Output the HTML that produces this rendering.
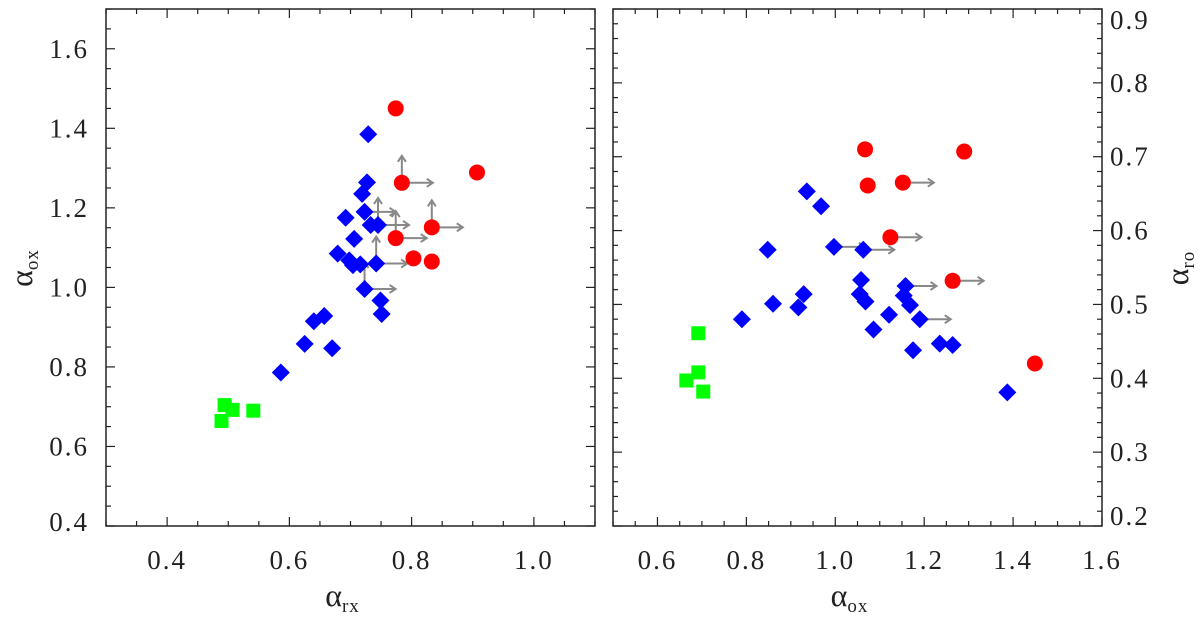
<!DOCTYPE html>
<html><head><meta charset="utf-8"><style>
body{margin:0;background:#fff;}
svg text{font-family:"Liberation Serif","DejaVu Serif",serif;fill:#222;}
</style></head><body>
<svg id="chart" width="1200" height="617" viewBox="0 0 1200 617" xmlns="http://www.w3.org/2000/svg"></svg>
<script>
// ---- Left panel data (alpha_rx vs alpha_ox) ----
const leftRedX=[0.774,0.907,0.784,0.774,0.833,0.803,0.833];
const leftRedY=[1.450,1.289,1.263,1.124,1.151,1.073,1.065];
const leftRedUp=[0,0,1,1,1,0,0];
const leftRedRight=[0,0,1,1,1,0,0];
const leftBlueX=[0.729,0.727,0.719,0.692,0.723,0.733,0.745,0.706,0.679,0.698,0.704,0.716,0.742,0.723,0.749,0.751,0.640,0.657,0.625,0.670,0.586];
const leftBlueY=[1.385,1.264,1.235,1.175,1.190,1.157,1.157,1.122,1.085,1.068,1.056,1.058,1.060,0.996,0.967,0.933,0.915,0.928,0.858,0.847,0.786];
const leftBlueUp=[0,0,0,0,0,0,1,0,0,0,0,0,1,1,0,0,0,0,0,0,0];
const leftBlueRight=[0,0,0,0,1,0,1,0,0,0,0,0,1,1,0,0,0,0,0,0,0];
const leftGreenX=[0.494,0.507,0.541,0.489];
const leftGreenY=[0.704,0.692,0.690,0.664];
const leftXTicks=["0.4","0.6","0.8","1.0"];
const leftYTicks=["0.4","0.6","0.8","1.0","1.2","1.4","1.6"];
// ---- Right panel data (alpha_ox vs alpha_ro) ----
const rightRedX=[1.067,1.290,1.073,1.152,1.124,1.264,1.449];
const rightRedY=[0.710,0.707,0.661,0.665,0.591,0.532,0.420];
const rightRedRight=[0,0,0,1,1,1,0];
const rightBlueX=[0.936,0.968,0.848,0.997,1.063,1.058,1.055,1.068,0.929,0.860,0.917,0.790,1.158,1.154,1.168,1.121,1.190,1.086,1.175,1.235,1.264,1.387];
const rightBlueY=[0.653,0.633,0.574,0.578,0.574,0.533,0.514,0.504,0.514,0.501,0.496,0.480,0.525,0.512,0.499,0.486,0.480,0.466,0.438,0.447,0.445,0.381];
const rightBlueRight=[0,0,0,1,1,0,0,0,0,0,0,0,1,0,0,0,1,0,0,0,0,0];
const rightGreenX=[0.692,0.692,0.665,0.703];
const rightGreenY=[0.461,0.408,0.397,0.382];
const rightXTicks=["0.6","0.8","1.0","1.2","1.4","1.6"];
const rightYTicks=["0.2","0.3","0.4","0.5","0.6","0.7","0.8","0.9"];

const NS="http://www.w3.org/2000/svg";
const svg=document.getElementById('chart');
function mk(tag,attrs,parent){const e=document.createElementNS(NS,tag);for(const k in attrs)e.setAttribute(k,attrs[k]);(parent||svg).appendChild(e);return e;}

function panel(cfg){
  const g=mk('g',{});
  
  
  const sx=v=>cfg.x0+(v-cfg.xmin)/(cfg.xmax-cfg.xmin)*(cfg.x1-cfg.x0);
  const sy=v=>cfg.y1-(v-cfg.ymin)/(cfg.ymax-cfg.ymin)*(cfg.y1-cfg.y0);
  const frame=mk('rect',{x:cfg.x0,y:cfg.y0,width:cfg.x1-cfg.x0,height:cfg.y1-cfg.y0,fill:'none',stroke:'#222','stroke-width':1.5},g);
  
  
  const nx=Math.round((cfg.xmax-cfg.xmin)/cfg.xminor);
  for(let i=0;i<=nx;i++){const v=cfg.xmin+i*cfg.xminor;const X=sx(v);
    const major=Math.abs(Math.round(v/cfg.xmajor)*cfg.xmajor-v)<1e-6;const L=major?9:5;
    mk('line',{x1:X,y1:cfg.y1,x2:X,y2:cfg.y1-L,stroke:'#222','stroke-width':1.2},g);
    mk('line',{x1:X,y1:cfg.y0,x2:X,y2:cfg.y0+L,stroke:'#222','stroke-width':1.2},g);}
  const ny=Math.round((cfg.ymax-cfg.ymin)/cfg.yminor);
  for(let i=0;i<=ny;i++){const v=cfg.ymin+i*cfg.yminor;const Y=sy(v);
    const major=Math.abs(Math.round(v/cfg.ymajor)*cfg.ymajor-v)<1e-6;const L=major?9:5;
    mk('line',{x1:cfg.x0,y1:Y,x2:cfg.x0+L,y2:Y,stroke:'#222','stroke-width':1.2},g);
    mk('line',{x1:cfg.x1,y1:Y,x2:cfg.x1-L,y2:Y,stroke:'#222','stroke-width':1.2},g);}
  cfg.xTicks.forEach(t=>{const e=mk('text',{x:sx(parseFloat(t)),y:cfg.y1+43,'font-size':27,'letter-spacing':2,'text-anchor':'middle'},g);e.textContent=t;
    });
  cfg.yTicks.forEach(t=>{let c=sy(parseFloat(t));c=Math.max(cfg.labMin,Math.min(cfg.labMax,c));
    const e=mk('text',{x:cfg.yLabelRight?cfg.x1+8:cfg.x0-17,y:c+9,'font-size':27,'letter-spacing':2,'text-anchor':cfg.yLabelRight?'start':'end'},g);e.textContent=t;
    });
  const ag=mk('g',{stroke:'#888','stroke-width':2,fill:'none'},g);
  
  function right(X,Y){mk('line',{x1:X,y1:Y,x2:X+31,y2:Y},ag);mk('polyline',{points:`${X+25},${Y-4} ${X+31},${Y} ${X+25},${Y+4}`},ag);}
  function up(X,Y){mk('line',{x1:X,y1:Y,x2:X,y2:Y-27},ag);mk('polyline',{points:`${X-4},${Y-21} ${X},${Y-27} ${X+4},${Y-21}`},ag);}
  cfg.series.forEach(s=>{s.x.forEach((v,i)=>{const X=sx(v),Y=sy(s.y[i]);
    if(s.up&&s.up[i])up(X,Y);if(s.right&&s.right[i])right(X,Y);});});
  cfg.series.forEach(s=>{s.x.forEach((v,i)=>{const X=sx(v),Y=sy(s.y[i]);let e;
    if(s.shape==='circle')e=mk('circle',{cx:X,cy:Y,r:8,fill:'#f00'},g);
    else if(s.shape==='diamond')e=mk('polygon',{points:`${X},${Y-9} ${X+9},${Y} ${X},${Y+9} ${X-9},${Y}`,fill:'#00f'},g);
    else e=mk('rect',{x:X-7,y:Y-7,width:14,height:14,fill:'#0f0'},g);
    });});
  const xt=mk('text',{x:(cfg.x0+cfg.x1)/2-8,y:606,'font-size':32,'text-anchor':'middle'},g);
  
  xt.innerHTML=`α<tspan font-size="19" dy="6" letter-spacing="1">${cfg.xsub}</tspan>`;
  const yt=mk('text',{x:0,y:0,'font-size':32,'text-anchor':'middle',transform:`translate(${cfg.ytx},${cfg.yty}) rotate(-90)`},g);
  
  yt.innerHTML=`α<tspan font-size="19" dy="6" letter-spacing="1">${cfg.ysub}</tspan>`;
}
panel({name:'left-panel',x0:106,x1:595,y0:9,y1:526,xmin:0.3,xmax:1.1,ymin:0.4,ymax:1.7,
  xmajor:0.2,xminor:0.05,ymajor:0.2,yminor:0.05,xTicks:leftXTicks,yTicks:leftYTicks,yLabelRight:false,labMin:20,labMax:522,
  xsub:'rx',ysub:'ox',ytx:32,yty:268,
  series:[{name:'green-square',shape:'square',x:leftGreenX,y:leftGreenY},
    {name:'blue-diamond',shape:'diamond',x:leftBlueX,y:leftBlueY,up:leftBlueUp,right:leftBlueRight},
    {name:'red-circle',shape:'circle',x:leftRedX,y:leftRedY,up:leftRedUp,right:leftRedRight}]});
panel({name:'right-panel',x0:613,x1:1102,y0:9,y1:526,xmin:0.5,xmax:1.6,ymin:0.2,ymax:0.9,
  xmajor:0.2,xminor:0.05,ymajor:0.1,yminor:0.02,xTicks:rightXTicks,yTicks:rightYTicks,yLabelRight:true,labMin:20,labMax:516,
  xsub:'ox',ysub:'ro',ytx:1188,yty:268,
  series:[{name:'green-square',shape:'square',x:rightGreenX,y:rightGreenY},
    {name:'blue-diamond',shape:'diamond',x:rightBlueX,y:rightBlueY,right:rightBlueRight},
    {name:'red-circle',shape:'circle',x:rightRedX,y:rightRedY,right:rightRedRight}]});
</script>
</body></html>
